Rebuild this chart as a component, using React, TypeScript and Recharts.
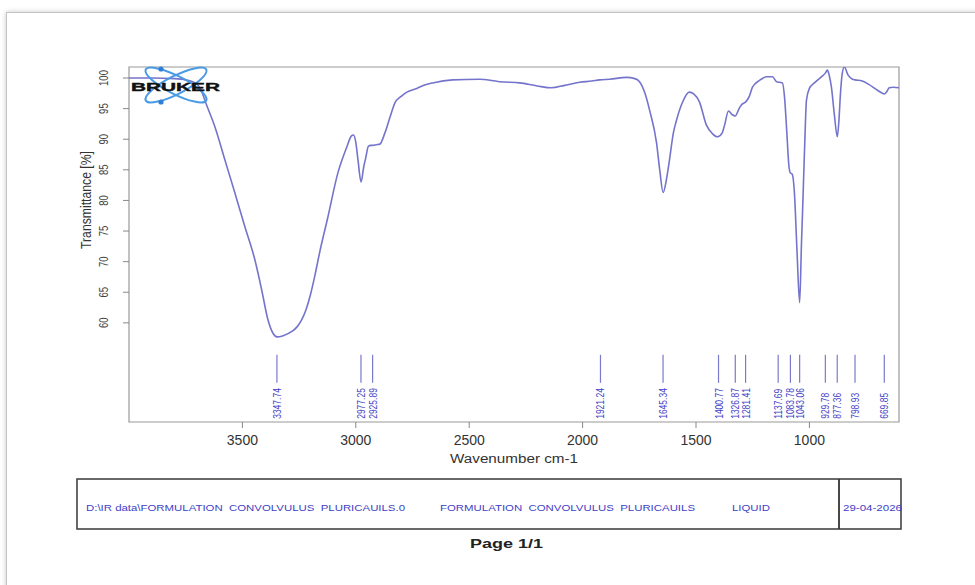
import React from 'react';
import { ComposedChart, Line, Scatter, XAxis, YAxis, ReferenceArea } from 'recharts';

// ---- data ----
const wavenumbers = [
  4000, 3900, 3800, 3750, 3700, 3680, 3660, 3621, 3577, 3533, 3489, 3445, 3414, 3388, 3365, 3348, 3320, 3282,
  3260, 3240, 3220, 3200, 3180, 3160, 3123, 3079, 3040, 3020, 3010, 3000, 2990, 2977, 2965, 2956, 2945, 2935, 2925,
  2910, 2894, 2872, 2850, 2828, 2800, 2775, 2731, 2700, 2661, 2573, 2454, 2400, 2366, 2278, 2200, 2137, 2080,
  2013, 1960, 1925, 1880, 1806, 1770, 1749, 1725, 1705, 1674, 1660, 1645, 1630, 1617, 1600, 1586, 1560, 1530,
  1510, 1485, 1454, 1430, 1405, 1385, 1374, 1357, 1340, 1327, 1310, 1300, 1281, 1265, 1251, 1220, 1189, 1163,
  1145, 1138, 1132, 1119, 1110, 1101, 1090, 1084, 1076, 1066, 1055, 1043, 1035, 1030, 1020, 1013, 1000, 978,
  947, 930, 921, 913, 903, 890, 877, 870, 863, 855, 846, 830, 810, 799, 767, 740, 700, 678, 670, 660, 648, 630, 605,
];
const transmittance = [
  100.0, 100.0, 99.9, 99.7, 99.0, 97.8, 95.8, 92.0, 86.6, 81.2, 75.7, 70.3, 65.2, 60.6, 58.3, 57.7, 57.9, 58.6,
  59.3, 60.4, 62.1, 64.6, 67.8, 71.4, 77.3, 84.5, 88.7, 90.5, 90.7, 89.5, 86.5, 83.0, 85.5, 87.0, 88.8, 89.0, 89.0,
  89.1, 89.2, 91.0, 93.5, 95.9, 97.0, 97.7, 98.3, 98.8, 99.2, 99.7, 99.8, 99.6, 99.4, 99.2, 98.7, 98.4, 98.8,
  99.3, 99.5, 99.7, 99.8, 100.1, 99.9, 99.4, 97.5, 94.8, 89.4, 85.0, 81.3, 83.5, 86.6, 91.0, 93.1, 96.0, 97.7,
  97.4, 96.1, 92.3, 91.0, 90.4, 91.0, 92.3, 94.6, 94.0, 93.8, 95.0, 95.6, 96.1, 97.0, 98.5, 99.6, 100.2, 100.2,
  99.4, 99.3, 99.3, 99.2, 97.0, 92.0, 85.5, 84.5, 84.3, 81.2, 72.0, 63.3, 73.0, 78.4, 90.0, 96.4, 98.3, 99.2,
  100.2, 100.8, 101.3, 100.5, 98.5, 94.0, 90.4, 93.0, 97.5, 100.8, 101.8, 100.5, 99.8, 99.7, 99.5, 99.0, 98.0, 97.5, 97.4, 97.7, 98.4, 98.5, 98.4,
];
const peakPositions = [3347.74, 2977.25, 2925.89, 1921.24, 1645.34, 1400.77, 1326.87, 1281.41, 1137.69, 1083.78, 1043.06, 929.78, 877.36, 798.93, 669.85];
const peakLabels = ['3347.74', '2977.25', '2925.89', '1921.24', '1645.34', '1400.77', '1326.87', '1281.41', '1137.69', '1083.78', '1043.06', '929.78', '877.36', '798.93', '669.85'];
const xTicks = [3500, 3000, 2500, 2000, 1500, 1000];
const yTicks = [60, 65, 70, 75, 80, 85, 90, 95, 100];
const X_DOMAIN: [number, number] = [605, 4000];
const Y_DOMAIN: [number, number] = [43.8, 101.8];
const PEAK_MARK_LEVEL = 50.2;

const footerPath = 'D:\\IR data\\FORMULATION  CONVOLVULUS  PLURICAUILS.0';
const footerSample = 'FORMULATION  CONVOLVULUS  PLURICAUILS';
const footerForm = 'LIQUID';
const footerDate = '29-04-2026';

const spectrum = wavenumbers.map((wn, i) => ({ wn, t: transmittance[i] }));
const peaks = peakPositions.map((wn, i) => ({ wn, y: PEAK_MARK_LEVEL, label: peakLabels[i] }));

const FONT = '"Liberation Sans", Arial, Helvetica, sans-serif';
const CURVE = '#7474cc';
const BLUE_TEXT = '#3f3fc6';

const YTick = (props: any) => {
  const { x, y, payload } = props;
  const bx = x - 13.5;
  return (
    <text
      transform={`translate(${bx},${y}) rotate(-90) scale(1,1.35)`}
      textAnchor="middle"
      fontSize={9.5}
      fill="#444"
      fontFamily={FONT}
    >
      {payload.value}
    </text>
  );
};

const PeakMark = (props: any) => {
  const { cx, cy, payload } = props;
  if (cx == null || cy == null) return <g />;
  const ty = cy + 36;
  return (
    <g>
      <line x1={cx} x2={cx} y1={cy - 28} y2={cy} stroke="#7a7acc" strokeWidth={1.2} />
      <text
        transform={`translate(${cx + 4},${ty}) rotate(-90) scale(1,1.3)`}
        textAnchor="start"
        fontSize={8.5}
        fill={BLUE_TEXT}
        fontFamily={FONT}
      >
        {payload.label}
      </text>
    </g>
  );
};

export default function App() {
  return (
    <div style={{ position: 'absolute', left: 0, top: 0, width: 975, height: 585, overflow: 'hidden', background: '#fff', fontFamily: FONT }}>
      <div
        style={{
          position: 'absolute',
          left: 6,
          top: 12,
          width: 1000,
          height: 620,
          borderLeft: '1px solid #c4c4c4',
          borderTop: '1px solid #c4c4c4',
          boxShadow: '0 0 5px rgba(0,0,0,0.22)',
          background: '#fff',
        }}
      />
      <div style={{ position: 'absolute', left: 0, top: 0 }}>
        <ComposedChart width={975} height={585} margin={{ top: 67, right: 76, bottom: 123, left: 69 }}>
          <XAxis
            type="number"
            dataKey="wn"
            domain={X_DOMAIN}
            reversed
            allowDataOverflow
            ticks={xTicks}
            axisLine={false}
            tickLine={{ stroke: '#888' }}
            tickSize={6}
            tickMargin={7}
            height={40}
            tick={{ fontSize: 14, fill: '#333', fontFamily: FONT }}
          />
          <YAxis
            type="number"
            domain={Y_DOMAIN}
            allowDataOverflow
            ticks={yTicks}
            axisLine={false}
            tickLine={{ stroke: '#888' }}
            tickSize={6}
            tickMargin={2}
            width={60}
            tick={<YTick />}
          />
          <ReferenceArea
            x1={X_DOMAIN[1]}
            x2={X_DOMAIN[0]}
            y1={Y_DOMAIN[0]}
            y2={Y_DOMAIN[1]}
            fill="none"
            fillOpacity={0}
            stroke="#9a9a9a"
            strokeWidth={1.2}
            ifOverflow="visible"
          />
          <Line
            data={spectrum}
            dataKey="t"
            type="monotone"
            stroke={CURVE}
            strokeWidth={1.6}
            dot={false}
            activeDot={false}
            isAnimationActive={false}
          />
          <Scatter data={peaks} dataKey="y" shape={<PeakMark />} isAnimationActive={false} legendType="none" />
        </ComposedChart>
      </div>
      <svg width={975} height={585} style={{ position: 'absolute', left: 0, top: 0, pointerEvents: 'none' }}>
        {/* logo */}
        <g>
          <ellipse cx={176} cy={85} rx={34} ry={9} fill="none" stroke="#4a9be6" strokeWidth={2} transform="rotate(27 176 85)" />
          <ellipse cx={176} cy={85} rx={34} ry={9} fill="none" stroke="#4a9be6" strokeWidth={2} transform="rotate(-27 176 85)" />
          <circle cx={161} cy={69} r={2.6} fill="#2f7fd6" />
          <circle cx={161} cy={102} r={2.6} fill="#2f7fd6" />
          <text x={131} y={90.5} fontSize={11.5} fontWeight={900} fill="#111" fontFamily={FONT} textLength={89} lengthAdjust="spacingAndGlyphs" stroke="#111" strokeWidth={0.4}>
            BRUKER
          </text>
        </g>
        {/* axis titles */}
        <text
          transform="translate(91,200) rotate(-90) scale(1,1.2)"
          textAnchor="middle"
          fontSize={12}
          fill="#333"
          fontFamily={FONT}
          textLength={98}
          lengthAdjust="spacingAndGlyphs"
        >
          Transmittance [%]
        </text>
        <text x={450} y={463} fontSize={12.5} fill="#333" fontFamily={FONT} textLength={128} lengthAdjust="spacingAndGlyphs">
          Wavenumber cm-1
        </text>
        {/* footer box */}
        <rect x={77} y={479} width={824} height={50} fill="none" stroke="#444" strokeWidth={1.6} />
        <line x1={839} x2={839} y1={479} y2={529} stroke="#333" strokeWidth={1.8} />
        <text x={86} y={510.5} fontSize={9.5} fill={BLUE_TEXT} fontFamily={FONT} textLength={319} lengthAdjust="spacingAndGlyphs" style={{ whiteSpace: 'pre' }}>
          {footerPath}
        </text>
        <text x={440} y={510.5} fontSize={9.5} fill={BLUE_TEXT} fontFamily={FONT} textLength={255} lengthAdjust="spacingAndGlyphs" style={{ whiteSpace: 'pre' }}>
          {footerSample}
        </text>
        <text x={732} y={510.5} fontSize={9.5} fill={BLUE_TEXT} fontFamily={FONT} textLength={38} lengthAdjust="spacingAndGlyphs">
          {footerForm}
        </text>
        <text x={843} y={510.5} fontSize={9.5} fill={BLUE_TEXT} fontFamily={FONT} textLength={59} lengthAdjust="spacingAndGlyphs">
          {footerDate}
        </text>
        <text x={470} y={548} fontSize={13} fontWeight="bold" fill="#222" fontFamily={FONT} textLength={73} lengthAdjust="spacingAndGlyphs">
          Page 1/1
        </text>
      </svg>
    </div>
  );
}
